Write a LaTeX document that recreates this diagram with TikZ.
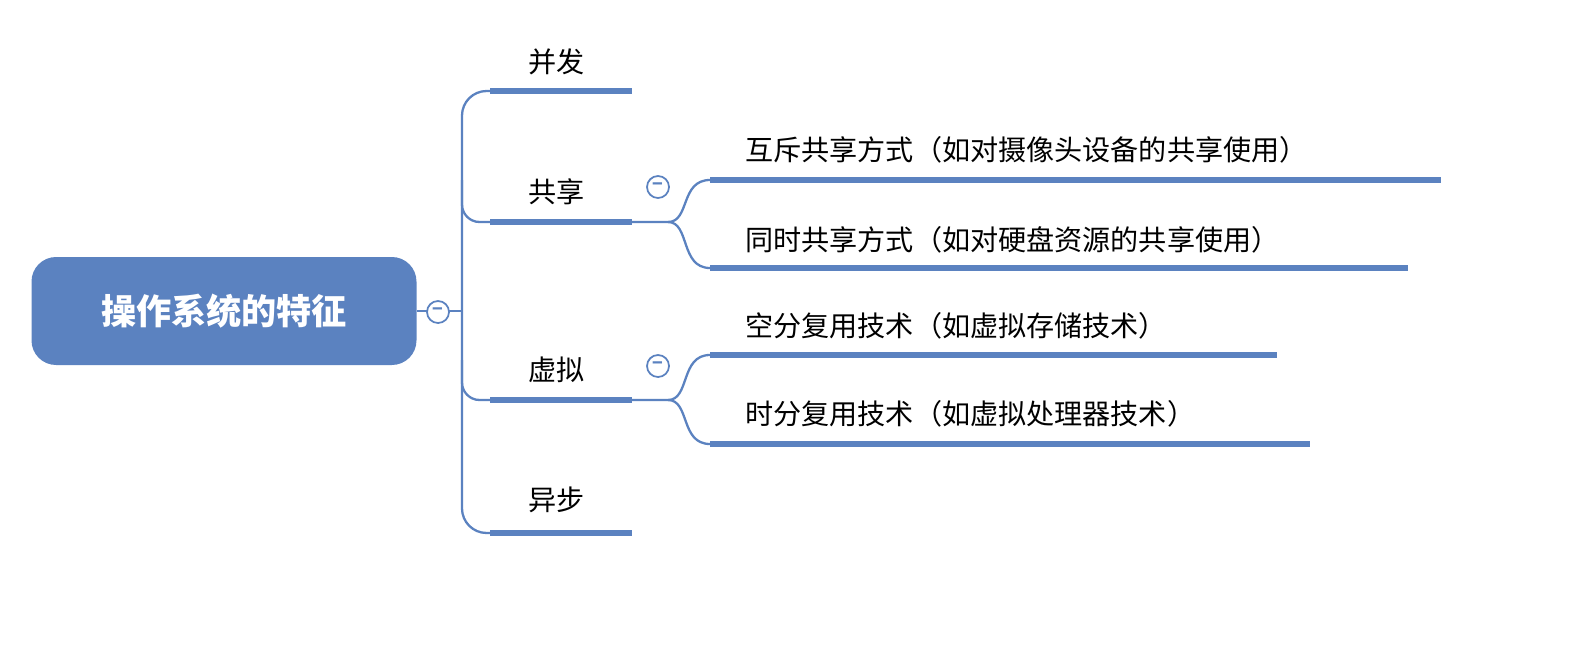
\documentclass[tikz,border=0pt]{standalone}
\usepackage{fontspec}
\newfontfamily\cjk{Noto Sans CJK SC}
\definecolor{mapblue}{HTML}{5B82C0}
\begin{document}
\begin{tikzpicture}[x=0.02cm,y=-0.02cm,
  thin line/.style={mapblue, line width=1.3pt},
  bar/.style={mapblue, line width=3pt},
  lab/.style={font=\cjk\fontsize{16}{18}\selectfont, anchor=west, inner sep=0pt},
  fold/.style={draw=mapblue, circle, fill=white, line width=1pt, minimum size=22*0.02cm, inner sep=0pt, font=\cjk\bfseries\color{mapblue}}]

\useasboundingbox (0,0) rectangle (1576,656);

% Racine
\node[fill=mapblue, rounded corners=14pt, minimum width=385*0.02cm, minimum height=108*0.02cm,
  text=white, font=\cjk\bfseries\fontsize{20}{22}\selectfont] (root) at (224,311) {操作系统的特征};

% Branches principales
\coordinate (b1) at (490,91);  \coordinate (b1e) at (632,91);
\coordinate (b2) at (490,222); \coordinate (b2e) at (632,222);
\coordinate (b3) at (490,400); \coordinate (b3e) at (632,400);
\coordinate (b4) at (490,533); \coordinate (b4e) at (632,533);
\coordinate (t) at (462,311);

\draw[thin line] (root.east) -- (t);
\draw[thin line, rounded corners=14pt] (b1) -| (t) |- (b4);
\draw[thin line, rounded corners=10pt] (462,180) |- (b2);
\draw[thin line, rounded corners=10pt] (462,360) |- (b3);
\foreach \a/\b in {b1/b1e, b2/b2e, b3/b3e, b4/b4e}
  \draw[bar] (\a) -- (\b);

\node[fold] (f0) at (438,312) {\textminus};

\node[lab] (l1) at (528,62) {并发};
\node[lab] (l2) at (528,192) {共享};
\node[lab] (l3) at (528,370) {虚拟};
\node[lab] (l4) at (528,500) {异步};

% Sous-branches
\coordinate (s1) at (710,180); \coordinate (s1e) at (1441,180);
\coordinate (s2) at (710,268); \coordinate (s2e) at (1408,268);
\coordinate (s3) at (710,355); \coordinate (s3e) at (1277,355);
\coordinate (s4) at (710,444); \coordinate (s4e) at (1310,444);

\draw[thin line] (b2e) -- (668,222) .. controls (690,222) and (680,180) .. (s1);
\draw[thin line] (668,222) .. controls (690,222) and (680,268) .. (s2);
\draw[thin line] (b3e) -- (668,400) .. controls (690,400) and (680,355) .. (s3);
\draw[thin line] (668,400) .. controls (690,400) and (680,444) .. (s4);
\foreach \a/\b in {s1/s1e, s2/s2e, s3/s3e, s4/s4e}
  \draw[bar] (\a) -- (\b);

\node[fold] (f1) at (658,187) {\textminus};
\node[fold] (f2) at (658,366) {\textminus};

\node[lab] (m1) at (745,150) {互斥共享方式（如对摄像头设备的共享使用）};
\node[lab] (m2) at (745,240) {同时共享方式（如对硬盘资源的共享使用）};
\node[lab] (m3) at (745,326) {空分复用技术（如虚拟存储技术）};
\node[lab] (m4) at (745,414) {时分复用技术（如虚拟处理器技术）};

\end{tikzpicture}
\end{document}
